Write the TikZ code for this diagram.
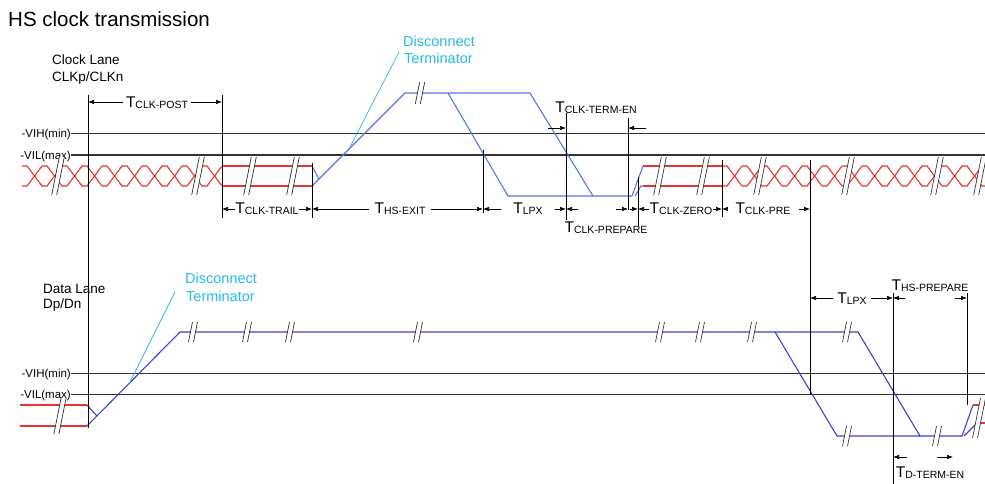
\documentclass[tikz,border=0pt]{standalone}
\usepackage{fontspec}
\setmainfont{Liberation Sans}
\usepackage{tikz}
\usetikzlibrary{arrows.meta}
\definecolor{hsred}{RGB}{228,52,52}
\definecolor{lpblue}{RGB}{86,118,228}
\definecolor{dlblue}{RGB}{64,64,206}
\definecolor{termcyan}{RGB}{38,186,232}
\tikzstyle{lvl} = [black!80,line width=1pt]
\tikzstyle{tline} = [black,line width=0.75pt]
\tikzstyle{hs} = [hsred,line width=1.1pt]
\tikzstyle{lpc} = [lpblue,line width=1.1pt]
\tikzstyle{lpd} = [dlblue,line width=1.1pt]
\tikzstyle{dim} = [black,line width=0.6pt,>={Latex[length=6pt,width=4.5pt]}]
\tikzstyle{lbl} = [anchor=base,inner xsep=3pt,inner ysep=1pt]
\newcommand\lanefont{\fontsize{13.5}{14}\selectfont}
\newcommand\vfont{\fontsize{11.5}{12}\selectfont}
\newcommand\cyfont{\fontsize{14.5}{15}\selectfont}
\newcommand\tdim[1]{{\fontsize{15.5}{16}\selectfont T}{\fontsize{10.5}{11}\selectfont\raisebox{-1pt}{#1}}}
% break sign: x, y, half height
\newcommand\brkmark[3]{%
  \fill[white] ({#1-2.5-0.2*#3},{#2+#3}) -- ({#1-2.5+0.2*#3},{#2-#3}) -- ({#1+2.5+0.2*#3},{#2-#3}) -- ({#1+2.5-0.2*#3},{#2+#3}) -- cycle;
  \draw[black!80,line width=0.7pt] ({#1-2.5-0.2*#3},{#2+#3}) -- ({#1-2.5+0.2*#3},{#2-#3})
    ({#1+2.5-0.2*#3},{#2+#3}) -- ({#1+2.5+0.2*#3},{#2-#3});}
% HS data eye: start x, number of bits
\newcommand\hseyes[2]{%
  \foreach \k in {1,...,#2}{
    \draw[hs] ({#1+(\k-1)*20},166) -- ++(5,0) -- ++(15,20);
    \draw[hs] ({#1+(\k-1)*20},186) -- ++(5,0) -- ++(15,-20);}}

\begin{document}
\begin{tikzpicture}[x=1pt,y=-1pt]
\useasboundingbox (0,0) rectangle (985,484);

\node[anchor=base west,inner sep=0pt,font=\fontsize{20.5}{21}\selectfont] (title) at (8,27) {HS clock transmission};

% clock lane
\node[anchor=base west,inner sep=0pt,font=\lanefont] (clklane) at (52,65) {Clock Lane};
\node[anchor=base west,inner sep=0pt,font=\lanefont] (clkpn) at (52,82) {CLKp/CLKn};
\node[anchor=base east,inner sep=0pt,font=\vfont] (cvih) at (71,138) {-VIH(min)};
\node[anchor=base east,inner sep=0pt,font=\vfont] (cvil) at (71,159) {-VIL(max)};
\draw[lvl] (71,134) -- (985,134);
\draw[lvl] (71,155) -- (985,155);

\hseyes{22}{10}
\draw[hs] (222,166) -- (312,166) (222,186) -- (312,186);
\draw[hs] (643,166) -- (722,166) (643,186) -- (722,186);
\hseyes{722}{14}

\draw[lpc] (312,166) -- (319,179);
\draw[lpc] (312,186) -- (405,93) -- (530,93) -- (593,196);
\draw[lpc] (448,93) -- (508,196) -- (632,196) -- (643,166);
\draw[lpc] (635,196) -- (641,186) -- (643,186);

\foreach \x in {58,198,250,293,660,703,760,848,937,980} {\brkmark{\x}{176}{19}}
\brkmark{420}{93}{11}

\draw[termcyan,line width=0.7pt] (399,52) -- (350,147);
\node[anchor=base west,inner sep=0pt,text=termcyan,font=\cyfont] (cdisc) at (403,47) {Disconnect};
\node[anchor=base west,inner sep=0pt,text=termcyan,font=\cyfont] (cterm) at (404,64) {Terminator};

% data lane
\node[anchor=base west,inner sep=0pt,font=\lanefont] (dlane) at (43,293) {Data Lane};
\node[anchor=base west,inner sep=0pt,font=\lanefont] (dpn) at (43,308) {Dp/Dn};
\node[anchor=base east,inner sep=0pt,font=\vfont] (dvih) at (71,377) {-VIH(min)};
\node[anchor=base east,inner sep=0pt,font=\vfont] (dvil) at (71,398) {-VIL(max)};
\draw[lvl] (71,373) -- (985,373);
\draw[lvl] (71,394) -- (985,394);

\draw[hs] (20,405) -- (87,405) (20,426) -- (87,426);
\draw[hs] (973,405) -- (985,405) (977,423) -- (985,423);
\draw[lpd] (87,405) -- (97,416);
\draw[lpd] (87,426) -- (180,332) -- (858,332) -- (920,436) -- (962,436) -- (973,405);
\draw[lpd] (775,332) -- (837,436) -- (920,436);
\draw[lpd] (964,436) -- (977,423);

\brkmark{60}{416}{18}
\foreach \x in {193,247,290,418,660,700,752,847} {\brkmark{\x}{332}{10}}
\foreach \x in {847,937} {\brkmark{\x}{436}{10}}
\brkmark{979}{418}{20}

\draw[termcyan,line width=0.7pt] (175,292) -- (130,382);
\node[anchor=base west,inner sep=0pt,text=termcyan,font=\cyfont] (ddisc) at (185,283) {Disconnect};
\node[anchor=base west,inner sep=0pt,text=termcyan,font=\cyfont] (dterm) at (186,301) {Terminator};

% timing marks
\draw[tline] (88,95) -- (88,428);
\draw[tline] (222,95) -- (222,218);
\draw[tline] (312,163) -- (312,218);
\draw[tline] (483,150) -- (483,213);
\draw[tline] (566,113) -- (566,220);
\draw[tline] (628,118) -- (628,210);
\draw[tline] (638,177) -- (638,227);
\draw[tline] (722,160) -- (722,217);
\draw[tline] (810,160) -- (810,395);
\draw[tline] (893,293) -- (893,484);
\draw[tline] (967,293) -- (967,405);

% clock timings
\draw[dim,<->] (88,102) -- (222,102);
\node[lbl,fill=white] (tpost) at (157,108) {\tdim{CLK-POST}};
\draw[dim,<->] (222,209) -- (312,209);
\node[lbl,fill=white,inner xsep=0pt] (ttrail) at (267,213) {\tdim{CLK-TRAIL}};
\draw[dim,<->] (312,209) -- (483,209);
\node[lbl,fill=white,inner xsep=6pt] (texit) at (400,213) {\tdim{HS-EXIT}};
\draw[dim,<->] (483,209) -- (566,209);
\node[lbl,fill=white,inner xsep=12pt] (tlpxc) at (528,213) {\tdim{LPX}};
\draw[dim,->] (578,209) -- (566,209);
\draw[dim,->] (616,209) -- (628,209);
\draw[dim,->] (630,209) -- (638,209);
\node[lbl] (tprep) at (606,232) {\tdim{CLK-PREPARE}};
\draw[dim,->] (548,128) -- (566,128);
\draw[dim,->] (646,128) -- (628,128);
\node[lbl] (ttermen) at (596,113) {\tdim{CLK-TERM-EN}};
\draw[dim,<->] (638,209) -- (722,209);
\node[lbl,fill=white,inner xsep=1pt] (tzero) at (681,213) {\tdim{CLK-ZERO}};
\draw[dim,<->] (722,209) -- (810,209);
\node[lbl,fill=white,inner xsep=8pt] (tpre) at (763,213) {\tdim{CLK-PRE}};

% data timings
\draw[dim,<->] (810,298) -- (893,298);
\node[lbl,fill=white,inner xsep=4pt] (tlpxd) at (852,303) {\tdim{LPX}};
\draw[dim,->] (905,298) -- (893,298);
\draw[dim,->] (955,298) -- (967,298);
\node[lbl] (thsprep) at (930,290) {\tdim{HS-PREPARE}};
\draw[dim,->] (907,457) -- (893,457);
\draw[dim,->] (937,457) -- (953,457);
\node[lbl] (tdterm) at (930,477) {\tdim{D-TERM-EN}};
\end{tikzpicture}
\end{document}
